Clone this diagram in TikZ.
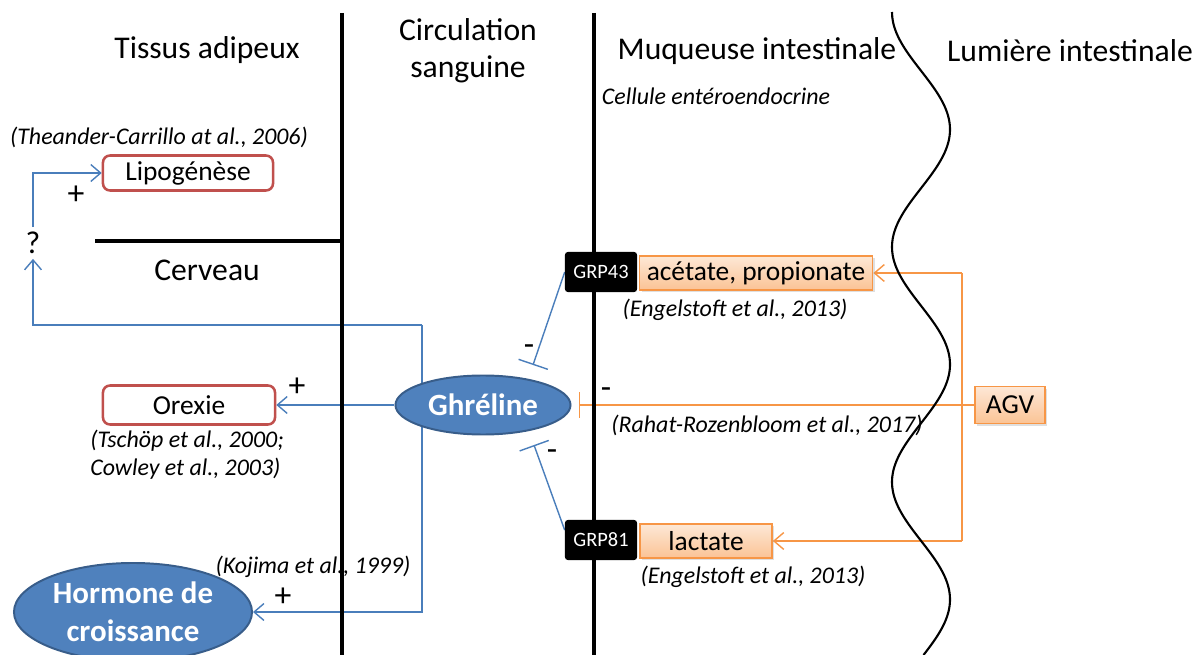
\documentclass[tikz,border=0pt]{standalone}
\usepackage{fontspec}
\setmainfont{Carlito}
\usetikzlibrary{arrows.meta,shapes.geometric,shadows,backgrounds}
\definecolor{lienbleu}{HTML}{4A7EBB}
\definecolor{fondbleu}{HTML}{4F81BD}
\definecolor{bordbleu}{HTML}{385D8A}
\definecolor{rougeboite}{HTML}{C0504D}
\definecolor{orangeboite}{HTML}{F79646}
\definecolor{orangeclair}{HTML}{FDE8D6}
\definecolor{orangefonce}{HTML}{FBC395}

\tikzset{
  titre/.style={font=\fontsize{22.5}{26}\selectfont},
  refbib/.style={font=\fontsize{17}{20}\selectfont\itshape},
  signe/.style={font=\fontsize{24}{26}\selectfont},
  boiterouge/.style={draw=rougeboite, line width=1.8pt, rounded corners=5pt, fill=white,
    font=\fontsize{19.5}{23}\selectfont},
  boiteorange/.style={draw=orangeboite, line width=1.2pt, top color=orangeclair, bottom color=orangefonce,
    minimum height=0.85cm, font=\fontsize{19.5}{23}\selectfont,
    drop shadow={shadow xshift=1.5pt, shadow yshift=-1.5pt, opacity=0.25}},
  recepteur/.style={fill=black, rounded corners=2pt, text=white, minimum width=1.8cm,
    minimum height=1cm, font=\fontsize{14.5}{17}\selectfont},
  hormone/.style={ellipse, fill=fondbleu, draw=bordbleu, line width=1.4pt, text=white,
    inner sep=0pt, font=\fontsize{22}{27}\selectfont\bfseries},
  fleche/.style={draw=lienbleu, line width=1pt, -{Straight Barb[length=7pt,width=12pt]}},
  inhibe/.style={draw=lienbleu, line width=1pt, -{Bar[width=22pt]}},
  flecheorange/.style={draw=orangeboite, line width=1pt, -{Straight Barb[length=7pt,width=12pt]}},
  inhibeorange/.style={draw=orangeboite, line width=1pt, -{Bar[width=18pt]}}
}

\begin{document}
\begin{tikzpicture}[x=0.025cm,y=-0.025cm]
\useasboundingbox (0,0) rectangle (1203,655);
% compartiments
\draw[line width=2.6pt] (342,13) -- (342,655);
\draw[line width=2.6pt] (594,13) -- (594,655);
\draw[line width=2.8pt] (95,241) -- (342,241);
\draw[line width=1.5pt] plot[domain=12:655, samples=120, smooth] ({921-29*cos(1.5319*(\x-12))}, \x);

\node[titre] (tissus) at (207,50) {Tissus adipeux};
\node[titre, align=center] (circ) at (468,51) {Circulation\\sanguine};
\node[titre] (muq) at (757,51) {Muqueuse intestinale};
\node[titre] (lum) at (1070,51) {Lumière intestinale};
\node[refbib] (cellule) at (716,96) {Cellule entéroendocrine};
\node[titre] (cerveau) at (207,270) {Cerveau};

% cibles
\node[titre] (q) at (33,243) {?};
\node[boiterouge, minimum width=4.25cm, minimum height=0.875cm] (lipo) at (188,173) {Lipogénèse};
\node[boiterouge, minimum width=4.3cm, minimum height=0.975cm] (orexie) at (189,405) {Orexie};
\node[hormone, minimum width=4.375cm, minimum height=1.475cm] (gh) at (483,405) {Ghréline};
\node[hormone, minimum width=5.95cm, minimum height=2.45cm, align=center] (gh2) at (133,612) {Hormone de\\croissance};

% lumiere
\node[recepteur] (g43) at (601,272) {GRP43};
\node[recepteur] (g81) at (601,540) {GRP81};
\node[boiteorange, minimum width=5.825cm] (acet) at (756,273) {acétate, propionate};
\node[boiteorange, minimum width=3.3cm] (lact) at (706,541) {lactate};
\node[boiteorange, minimum width=1.75cm, minimum height=0.925cm] (agv) at (1010,405) {AGV};

% references
\node[refbib] at (159,137) {(Theander-Carrillo at al., 2006)};
\node[refbib] at (735,310) {(Engelstoft et al., 2013)};
\node[refbib] at (767,425) {(Rahat-Rozenbloom et al., 2017)};
\node[refbib, align=left] at (187,455) {(Tschöp et al., 2000;\\Cowley et al., 2003)};
\node[refbib] at (313,567) {(Kojima et al., 1999)};
\node[refbib] at (753,577) {(Engelstoft et al., 2013)};

\node[signe] at (76,195) {+};
\node[signe] at (297,387) {+};
\node[signe] at (283,597) {+};
\node[signe] at (529,350) {-};
\node[signe] at (552,455) {-};
\node[signe] at (606,393) {-};

\coordinate (haut) at (422,325);
\coordinate (bas) at (422,612);
\coordinate (stop43) at (533,365);
\coordinate (stop81) at (534,445);
\coordinate (ohaut) at (962,273);
\coordinate (obas) at (962,541);

\begin{scope}[on background layer]
\draw[fleche] (haut) -- (bas) -- (gh2.east);
\draw[fleche] (haut) -| (q.south);
\draw[fleche] (q.north) |- (lipo.west);
\draw[fleche] (gh.west) -- (orexie.east);
\draw[inhibe] (g43.west) -- (stop43);
\draw[inhibe] ([yshift=7pt]g81.west) -- (stop81);
\draw[flecheorange] (ohaut) -- (acet.east);
\draw[flecheorange] (obas) -- (lact.east);
\draw[draw=orangeboite, line width=1pt] (ohaut) -- (obas);
\draw[inhibeorange, shorten >=5pt] (agv.west) -- (gh.east);
\end{scope}
\end{tikzpicture}
\end{document}
